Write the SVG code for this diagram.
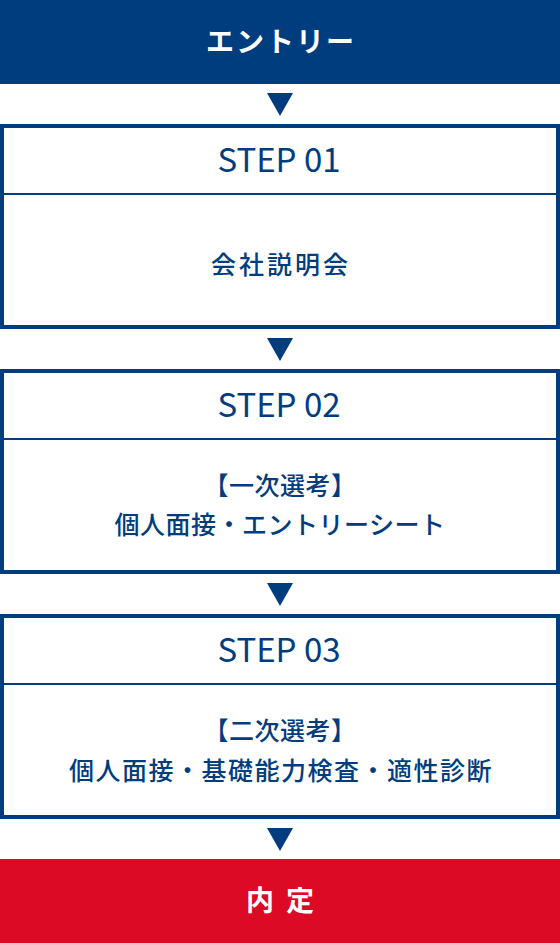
<svg xmlns="http://www.w3.org/2000/svg" width="560" height="943" viewBox="0 0 560 943">
<style>
.band{fill:#003d7f}
.red{fill:#dc0a24}
.box{fill:#fff;stroke:#003d7f;stroke-width:4}
.div{stroke:#003d7f;stroke-width:2}
.arr{fill:#003d7f}
.w{fill:#fff;font-family:"Noto Sans CJK JP","Noto Sans",sans-serif;font-weight:bold;font-size:28px;text-anchor:middle}
.step{fill:#003d7f;font-family:"Noto Sans CJK JP","Noto Sans",sans-serif;font-size:33px;text-anchor:middle}
.t{fill:#003d7f;font-family:"Noto Sans CJK JP","Noto Sans",sans-serif;font-weight:500;font-size:25px;text-anchor:middle}
</style>
<g id="entry">
<rect class="band" x="0" y="0" width="560" height="84"/>
<text class="w" x="281" y="52" letter-spacing="2">エントリー</text>
</g>
<g id="step1">
<rect class="box" x="2" y="126" width="556" height="201"/>
<line class="div" x1="2" y1="194" x2="558" y2="194"/>
<text class="step" x="279" y="172">STEP 01</text>
<text class="t" x="281" y="274" letter-spacing="3">会社説明会</text>
</g>
<g id="step2">
<rect class="box" x="2" y="371" width="556" height="201"/>
<line class="div" x1="2" y1="439" x2="558" y2="439"/>
<text class="step" x="279" y="417">STEP 02</text>
<text class="t" x="280" y="495" letter-spacing="0.5">【一次選考】</text>
<text class="t" x="280" y="534" letter-spacing="0.5">個人面接・エントリーシート</text>
</g>
<g id="step3">
<rect class="box" x="2" y="616" width="556" height="201"/>
<line class="div" x1="2" y1="684" x2="558" y2="684"/>
<text class="step" x="279" y="662">STEP 03</text>
<text class="t" x="280" y="740" letter-spacing="0.5">【二次選考】</text>
<text class="t" x="281" y="780" letter-spacing="1.5">個人面接・基礎能力検査・適性診断</text>
</g>
<g id="offer">
<rect class="red" x="0" y="859" width="560" height="84"/>
<text class="w" x="286" y="911" letter-spacing="12">内定</text>
</g>
<g id="connectors">
<polygon class="arr" points="267,93 293,93 280,116"/>
<polygon class="arr" points="267,338 293,338 280,361"/>
<polygon class="arr" points="267,583 293,583 280,606"/>
<polygon class="arr" points="267,828 293,828 280,851"/>
</g>
</svg>
